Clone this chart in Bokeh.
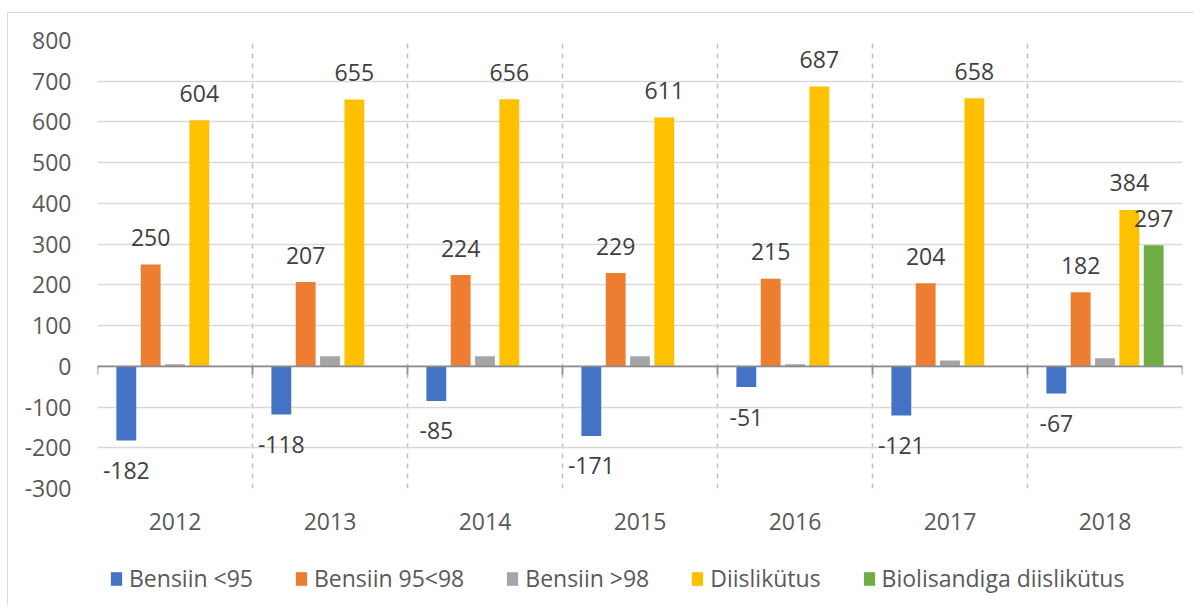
from bokeh.plotting import figure
from bokeh.layouts import column
from bokeh.models import ColumnDataSource, Range1d, FixedTicker, Legend, LegendItem, Span
from bokeh.core.properties import value
from bokeh.embed import file_html
from bokeh.resources import INLINE

# ---- data ----
years = ["2012", "2013", "2014", "2015", "2016", "2017", "2018"]
bensiin_lt95 = [-182, -118, -85, -171, -51, -121, -67]
bensiin_95_98 = [250, 207, 224, 229, 215, 204, 182]
bensiin_gt98 = [5, 25, 25, 25, 5, 14, 20]
diislikutus = [604, 655, 656, 611, 687, 658, 384]
bio_diislikutus = [None, None, None, None, None, None, 297]
series_names = ["Bensiin <95", "Bensiin 95<98", "Bensiin >98", "Diislikütus",
                "Biolisandiga diislikütus"]
series_values = [bensiin_lt95, bensiin_95_98, bensiin_gt98, diislikutus, bio_diislikutus]
series_colors = ["#4472C4", "#ED7D31", "#A5A5A5", "#FFC000", "#70AD47"]
series_labeled = [True, True, False, True, True]
y_ticks = list(range(-300, 801, 100))

FONT = value("Open Sans")
step = 0.157
bar_w = 0.128
W = 1186
NAN = float("nan")

p = figure(width=W, height=536, output_backend="svg", toolbar_location=None,
           x_range=Range1d(0, len(years)), y_range=Range1d(-300, 800),
           min_border_left=89, min_border_right=12, min_border_top=27, min_border_bottom=61,
           background_fill_color="white", border_fill_color="white")
p.outline_line_color = None

# grids
p.ygrid.ticker = FixedTicker(ticks=y_ticks)
p.ygrid.grid_line_color = "#d9d9d9"
p.ygrid.grid_line_width = 1.5
p.xgrid.ticker = FixedTicker(ticks=list(range(len(years) + 1)))
p.xgrid.grid_line_color = "#bfbfbf"
p.xgrid.grid_line_width = 1.5
p.xgrid.grid_line_dash = "5 5"

# axes
p.yaxis.ticker = FixedTicker(ticks=y_ticks)
p.yaxis.major_label_overrides = {t: str(t) for t in y_ticks}
p.yaxis.axis_line_color = None
p.yaxis.major_tick_line_color = None
p.yaxis.minor_tick_line_color = None
p.yaxis.major_label_text_font = "Open Sans"
p.yaxis.major_label_text_font_size = "23px"
p.yaxis.major_label_text_color = "#595959"
p.yaxis.major_label_standoff = 20

centers = [i + 0.5 for i in range(len(years))]
p.xaxis.ticker = FixedTicker(ticks=centers)
p.xaxis.major_label_overrides = {c: y for c, y in zip(centers, years)}
p.xaxis.axis_line_color = None
p.xaxis.major_tick_line_color = None
p.xaxis.minor_tick_line_color = None
p.xaxis.major_label_text_font = "Open Sans"
p.xaxis.major_label_text_font_size = "23px"
p.xaxis.major_label_text_color = "#595959"
p.xaxis.major_label_standoff = 18

# zero line with boundary ticks
p.add_layout(Span(location=0, dimension="width", line_color="#8c8c8c", line_width=1.8))
bounds = list(range(len(years) + 1))
p.segment(x0=bounds, y0=[0] * len(bounds), x1=bounds, y1=[-20] * len(bounds),
          line_color="#8c8c8c", line_width=1.8)

# legend strip
pl = figure(width=W, height=56, output_backend="svg", toolbar_location=None,
            x_range=Range1d(0, 1), y_range=Range1d(0, 1),
            x_axis_type=None, y_axis_type=None,
            min_border=0, min_border_left=0, min_border_right=0,
            min_border_top=0, min_border_bottom=0,
            background_fill_color="white", border_fill_color="white")
pl.outline_line_color = None
pl.grid.visible = False

items = []
n = len(series_names)
for k, (name, vals, col, lab) in enumerate(zip(series_names, series_values, series_colors, series_labeled)):
    off = (k - (n - 1) / 2) * step
    xs = [i + 0.5 + off for i in range(len(years))]
    tops = [NAN if v is None else v for v in vals]
    src = ColumnDataSource(dict(x=xs, top=tops))
    p.vbar(x="x", top="top", bottom=0, width=bar_w, source=src,
           fill_color=col, line_color=None)
    proxy = pl.vbar(x=[NAN], top=[NAN], width=0.1, fill_color=col, line_color=None)
    items.append(LegendItem(label=name, renderers=[proxy]))
    if lab:
        pos = [(x, v) for x, v in zip(xs, vals) if v is not None and v >= 0]
        neg = [(x, v) for x, v in zip(xs, vals) if v is not None and v < 0]
        if pos:
            p.text(x=[a for a, _ in pos], y=[b for _, b in pos], text=[str(b) for _, b in pos],
                   text_align="center", text_baseline="alphabetic", y_offset=-27,
                   text_font=FONT, text_font_size="23px", text_color="#404040")
        if neg:
            p.text(x=[a for a, _ in neg], y=[b for _, b in neg], text=[str(b) for _, b in neg],
                   text_align="center", text_baseline="alphabetic", y_offset=30,
                   text_font=FONT, text_font_size="23px", text_color="#404040")

legend = Legend(items=items, orientation="horizontal", location=(12, 11),
                glyph_width=14, glyph_height=17, label_standoff=6, spacing=41,
                label_text_font="Open Sans", label_text_font_size="23px",
                label_text_color="#595959", border_line_color=None,
                background_fill_alpha=0, margin=0, padding=4)
pl.add_layout(legend, "center")

layout = column(p, pl, spacing=0,
                styles={"margin-left": "7px", "margin-top": "12px",
                        "border-left": "1.5px solid #d9d9d9",
                        "border-top": "1.5px solid #d9d9d9"})

open("out.html", "w").write(file_html(layout, INLINE))
